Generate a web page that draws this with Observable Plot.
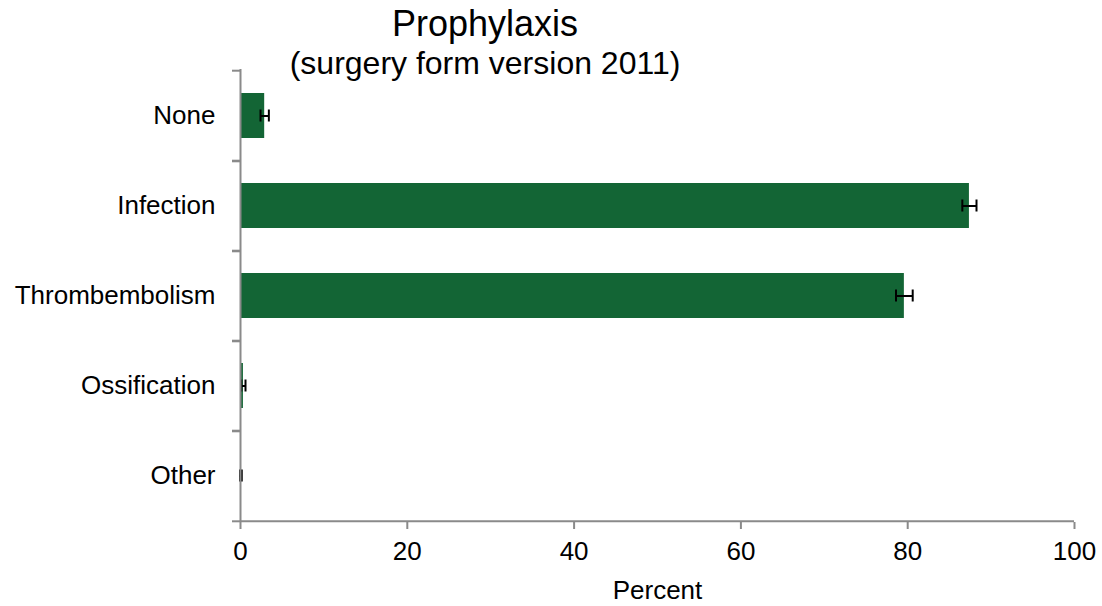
<!DOCTYPE html>
<html>
<head>
<meta charset="utf-8">
<script src="https://cdn.jsdelivr.net/npm/d3@7"></script>
<script src="https://cdn.jsdelivr.net/npm/@observablehq/plot@0.6"></script>
<style>
  html, body { margin: 0; padding: 0; background: #fff; }
  #wrap { position: relative; width: 1102px; height: 606px; font-family: "Liberation Sans", Arial, sans-serif; }
  #title { position: absolute; left: 0; width: 970px; top: 4px; text-align: center; font-size: 36px; line-height: 40px; color: #000; white-space: nowrap; }
  #subtitle { position: absolute; left: 0; width: 970px; top: 45px; text-align: center; font-size: 32px; line-height: 36px; color: #000; white-space: nowrap; }
  svg { position: absolute; left: 0; top: 0; }
</style>
</head>
<body>
<div id="wrap">
  <div id="chart"></div>
  <div id="title">Prophylaxis</div>
  <div id="subtitle">(surgery form version 2011)</div>
</div>
<script>
const categories = ["None", "Infection", "Thrombembolism", "Ossification", "Other"];
const values = [2.9, 87.4, 79.6, 0.35, 0.05];
const errors = [0.5, 0.85, 1.0, 0.25, 0.1];
const xTicks = [0, 20, 40, 60, 80, 100];

const data = categories.map((c, i) => ({category: c, value: values[i], err: errors[i]}));

const W = 1102, H = 606;
const mTop = 69, mBottom = 84, mLeft = 240, mRight = 28;
const step = (H - mTop - mBottom) / categories.length;
const axisGray = "#8a8a8a";
const green = "#136535";

const chart = Plot.plot({
  width: W,
  height: H,
  marginTop: mTop,
  marginBottom: mBottom,
  marginLeft: mLeft,
  marginRight: mRight,
  style: {fontFamily: "'Liberation Sans', Arial, sans-serif", fontSize: "26px", color: "#000", background: "transparent"},
  x: {domain: [0, 100], ticks: xTicks},
  y: {domain: categories, paddingInner: 0.5, paddingOuter: 0.25},
  marks: [
    Plot.barX(data, {y: "category", x: "value", fill: green}),
    // error bars
    Plot.ruleY(data, {y: "category", x1: d => d.value - d.err, x2: d => d.value + d.err, stroke: "#000", strokeWidth: 2}),
    Plot.tickX(data, {y: "category", x: d => d.value - d.err, stroke: "#000", strokeWidth: 2, insetTop: 16.5, insetBottom: 16.5}),
    Plot.tickX(data, {y: "category", x: d => d.value + d.err, stroke: "#000", strokeWidth: 2, insetTop: 16.5, insetBottom: 16.5}),
    // axis lines
    Plot.ruleX([0], {stroke: axisGray, strokeWidth: 2}),
    Plot.ruleY([0], {y: () => categories[categories.length - 1], x1: 0, x2: 100, dy: step / 2, stroke: axisGray, strokeWidth: 2}),
    // y category labels
    Plot.axisY({tickSize: 0, tickPadding: 25, fontSize: 26, label: null, fill: "#000"}),
    // y boundary ticks
    Plot.axisY({tickSize: 8, text: null, dy: -step / 2, stroke: axisGray, strokeWidth: 2, label: null}),
    Plot.axisY({tickSize: 8, text: null, dy: step / 2, stroke: axisGray, strokeWidth: 2, label: null}),
    // x axis
    Plot.axisX({ticks: xTicks, tickSize: 7, tickPadding: 12, stroke: axisGray, strokeWidth: 2, fill: "#000", fontSize: 26, label: null}),
    Plot.text(["Percent"], {frameAnchor: "bottom", lineAnchor: "middle", dy: 68, fontSize: 26, fill: "#000"})
  ]
});
document.getElementById("chart").appendChild(chart);
</script>
</body>
</html>
